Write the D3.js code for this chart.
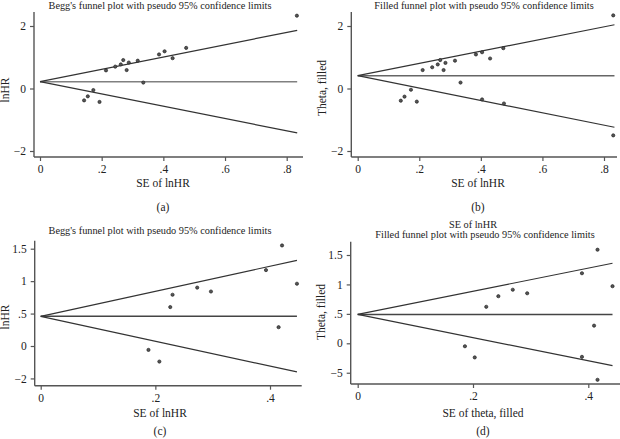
<!DOCTYPE html>
<html><head><meta charset="utf-8">
<script src="https://cdn.jsdelivr.net/npm/d3@7"></script>
<style>
html,body{margin:0;padding:0;background:#fff;}
svg{display:block;}
text{font-family:"Liberation Serif","DejaVu Serif",serif;fill:#222;}
</style></head>
<body>
<script>
// ---------- DATA ----------
// Panel (a): Begg's funnel plot, lnHR vs SE
const seA    = [0.833,0.474,0.404,0.386,0.430,0.317,0.288,0.270,0.262,0.244,0.281,0.214,0.335,0.173,0.155,0.143,0.193];
const lnhrA  = [2.33,1.30,1.19,1.09,0.97,0.89,0.83,0.91,0.77,0.70,0.59,0.58,0.19,-0.05,-0.25,-0.38,-0.43];
const funnelSeA = [0, 0.834];
const upperA = [0.22, 1.86];
const lowerA = [0.22, -1.42];
const pooledA = 0.22;

// Panel (b): filled funnel plot (observed + filled studies)
const seB    = [0.830,0.473,0.404,0.384,0.430,0.316,0.285,0.268,0.260,0.242,0.279,0.211,0.334,0.173,0.152,0.140,0.192];
const thetaB = [2.34,1.29,1.16,1.09,0.96,0.89,0.82,0.91,0.77,0.68,0.59,0.59,0.19,-0.04,-0.26,-0.39,-0.42];
const seBfilled    = [0.404,0.475,0.830];
const thetaBfilled = [-0.35,-0.48,-1.50];
const funnelSeB = [0, 0.834];
const upperB = [0.41, 2.04];
const lowerB = [0.41, -1.24];
const pooledB = 0.41;

// Panel (c): Begg's funnel plot
const seC    = [0.421,0.393,0.447,0.297,0.273,0.230,0.226,0.415,0.188,0.207];
const lnhrC  = [1.55,1.17,0.96,0.84,0.90,0.79,0.60,0.29,-0.06,-0.24];
const funnelSeC = [0, 0.447];
const upperC = [0.457, 1.32];
const lowerC = [0.457, -0.40];
const pooledC = 0.457;

// Panel (d): filled funnel plot
const seD    = [0.416,0.389,0.442,0.294,0.269,0.244,0.223,0.410,0.186,0.203];
const thetaD = [1.59,1.19,0.97,0.85,0.91,0.80,0.62,0.30,-0.05,-0.24];
const seDfilled    = [0.389,0.416];
const thetaDfilled = [-0.23,-0.62];
const funnelSeD = [0, 0.442];
const upperD = [0.49, 1.36];
const lowerD = [0.49, -0.38];
const pooledD = 0.49;

// Tick values / labels
const xTicksAB = [0,0.2,0.4,0.6,0.8];
const xTickLabelsAB = ["0",".2",".4",".6",".8"];
const yTicksAB = [-2,0,2];
const yTickLabelsAB = ["\u22122","0","2"];
const xTicksCD = [0,0.2,0.4];
const xTickLabelsCD = ["0",".2",".4"];
const yTicksCD = [-0.5,0,0.5,1,1.5];
const yTickLabelsC = ["\u22122","0",".5","1","1.5"];
const yTickLabelsD = ["\u22125","0",".5","1","1.5"];

// ---------- DRAW ----------
const W=620,H=439;
const svg=d3.select("body").append("svg").attr("width",W).attr("height",H);
const TITLE_FS=10.3, LAB_FS=11.5, TICK_FS=11.5;

function panel(cfg){
  const g=svg.append("g");
  const x=d3.scaleLinear().domain(cfg.xDom).range(cfg.xRange);
  const y=d3.scaleLinear().domain(cfg.yDom).range(cfg.yRange);
  const axisColor="#555";
  g.append("line").attr("x1",cfg.axX).attr("x2",cfg.axX).attr("y1",cfg.axTop).attr("y2",cfg.axY)
    .attr("stroke",axisColor).attr("stroke-width",1.4);
  g.append("line").attr("x1",cfg.axX).attr("x2",cfg.axRight).attr("y1",cfg.axY).attr("y2",cfg.axY)
    .attr("stroke",axisColor).attr("stroke-width",1.4);
  const xa=d3.axisBottom(x).tickValues(cfg.xTicks).tickSize(4).tickPadding(4)
    .tickFormat((d,i)=>cfg.xLabels[i]);
  const gx=g.append("g").attr("transform",`translate(0,${cfg.axY})`).call(xa);
  gx.select(".domain").remove();
  gx.selectAll(".tick line").attr("stroke",axisColor).attr("stroke-width",1.2);
  gx.selectAll(".tick text").style("font-size",TICK_FS+"px").attr("fill","#222");
  const ya=d3.axisLeft(y).tickValues(cfg.yTicks).tickSize(4).tickPadding(4)
    .tickFormat((d,i)=>cfg.yLabels[i]);
  const gy=g.append("g").attr("transform",`translate(${cfg.axX},0)`).call(ya);
  gy.select(".domain").remove();
  gy.selectAll(".tick line").attr("stroke",axisColor).attr("stroke-width",1.2);
  gy.selectAll(".tick text").style("font-size",TICK_FS+"px").attr("fill","#222");

  const line=d3.line().x(d=>x(d[0])).y(d=>y(d[1]));
  g.append("path").datum([[cfg.fSe[0],cfg.pooled],[cfg.fSe[1],cfg.pooled]]).attr("d",line)
    .attr("fill","none").attr("stroke",cfg.centerColor).attr("stroke-width",1.5);
  g.append("path").datum(cfg.fSe.map((s,i)=>[s,cfg.upper[i]])).attr("d",line)
    .attr("fill","none").attr("stroke","#333").attr("stroke-width",1.2);
  g.append("path").datum(cfg.fSe.map((s,i)=>[s,cfg.lower[i]])).attr("d",line)
    .attr("fill","none").attr("stroke","#333").attr("stroke-width",1.2);

  const pts=cfg.se.map((s,i)=>[s,cfg.val[i]]);
  if(cfg.seF) cfg.seF.forEach((s,i)=>pts.push([s,cfg.valF[i]]));
  g.selectAll("circle.pt").data(pts).enter().append("circle").attr("class","pt")
    .attr("cx",d=>x(d[0])).attr("cy",d=>y(d[1])).attr("r",1.6)
    .attr("fill","#555").attr("stroke","#222").attr("stroke-width",0.7);

  cfg.titles.forEach(t=>{
    g.append("text").attr("x",t.x).attr("y",t.y).attr("text-anchor","middle")
      .style("font-size",TITLE_FS+"px").text(t.text);
  });
  g.append("text").attr("transform",`translate(${cfg.yLab.x},${cfg.yLab.y}) rotate(-90)`)
    .attr("text-anchor","middle").style("font-size",LAB_FS+"px").text(cfg.yLab.text);
  g.append("text").attr("x",cfg.xLab.x).attr("y",cfg.xLab.y).attr("text-anchor","middle")
    .style("font-size",LAB_FS+"px").text(cfg.xLab.text);
  g.append("text").attr("x",cfg.sub.x).attr("y",cfg.sub.y).attr("text-anchor","middle")
    .style("font-size",LAB_FS+"px").text(cfg.sub.text);
}

panel({xDom:[0,0.8],xRange:[40,286.7],yDom:[-2,2],yRange:[151,26],
  axX:34,axTop:12,axY:157,axRight:303,
  xTicks:xTicksAB,xLabels:xTickLabelsAB,yTicks:yTicksAB,yLabels:yTickLabelsAB,
  se:seA,val:lnhrA,fSe:funnelSeA,upper:upperA,lower:lowerA,pooled:pooledA,centerColor:"#808080",
  titles:[{x:160,y:8.5,text:"Begg's funnel plot with pseudo 95% confidence limits"}],
  yLab:{x:9,y:90,text:"lnHR"},xLab:{x:163,y:187,text:"SE of lnHR"},sub:{x:163,y:211,text:"(a)"}});

panel({xDom:[0,0.8],xRange:[357.7,604],yDom:[-2,2],yRange:[151,26],
  axX:351.3,axTop:12,axY:157,axRight:617,
  xTicks:xTicksAB,xLabels:xTickLabelsAB,yTicks:yTicksAB,yLabels:yTickLabelsAB,
  se:seB,val:thetaB,seF:seBfilled,valF:thetaBfilled,fSe:funnelSeB,upper:upperB,lower:lowerB,pooled:pooledB,centerColor:"#666",
  titles:[{x:484,y:8.5,text:"Filled funnel plot with pseudo 95% confidence limits"}],
  yLab:{x:326,y:88,text:"Theta, filled"},xLab:{x:478,y:187,text:"SE of lnHR"},sub:{x:478,y:211,text:"(b)"}});

panel({xDom:[0,0.4],xRange:[40.7,270],yDom:[0,1.5],yRange:[346,248.7],
  axX:34.7,axTop:240.7,axY:385.7,axRight:301.7,
  xTicks:xTicksCD,xLabels:xTickLabelsCD,yTicks:yTicksCD,yLabels:yTickLabelsC,
  se:seC,val:lnhrC,fSe:funnelSeC,upper:upperC,lower:lowerC,pooled:pooledC,centerColor:"#444",
  titles:[{x:160,y:233.5,text:"Begg's funnel plot with pseudo 95% confidence limits"}],
  yLab:{x:9,y:317,text:"lnHR"},xLab:{x:160,y:416.5,text:"SE of lnHR"},sub:{x:160,y:435,text:"(c)"}});

panel({xDom:[0,0.4],xRange:[357.7,588.3],yDom:[0,1.5],yRange:[343.3,255],
  axX:350.7,axTop:241.7,axY:384,axRight:620,
  xTicks:xTicksCD,xLabels:xTickLabelsCD,yTicks:yTicksCD,yLabels:yTickLabelsD,
  se:seD,val:thetaD,seF:seDfilled,valF:thetaDfilled,fSe:funnelSeD,upper:upperD,lower:lowerD,pooled:pooledD,centerColor:"#444",
  titles:[{x:473,y:227.5,text:"SE of lnHR"},{x:485,y:237.5,text:"Filled funnel plot with pseudo 95% confidence limits"}],
  yLab:{x:325,y:312,text:"Theta, filled"},xLab:{x:483,y:416.5,text:"SE of theta, filled"},sub:{x:483,y:435,text:"(d)"}});
</script>
</body></html>
